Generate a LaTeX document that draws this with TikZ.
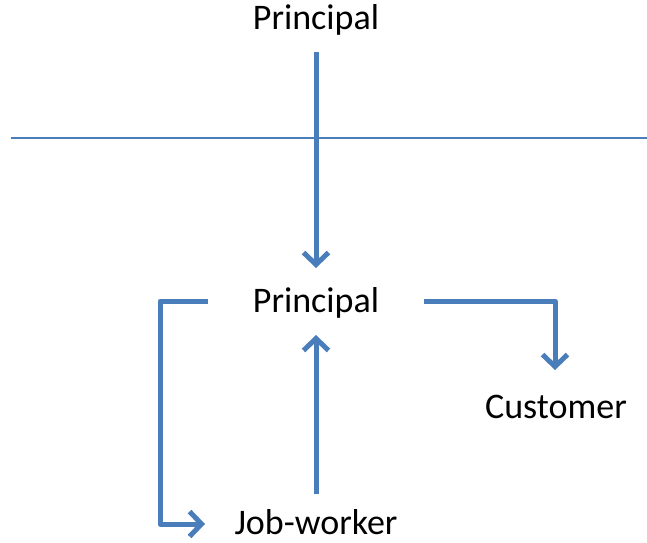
\documentclass[tikz,border=0pt]{standalone}
\usepackage{fontspec}
\setmainfont{Carlito}
\usetikzlibrary{arrows.meta}
\definecolor{flowblue}{HTML}{4A7EBB}
\begin{document}
\begin{tikzpicture}[x=1pt,y=-1pt,
  lbl/.style={font=\fontsize{36}{40}\selectfont, inner sep=0pt},
  flow/.style={draw=flowblue, line width=5pt, line join=round,
    -{Straight Barb[length=12pt,width=25pt,line width=5pt]}}]
\useasboundingbox (0,0) rectangle (647,542);
\node[lbl] (p1) at (316,20) {Principal};
\node[lbl] (p2) at (316,303) {Principal};
\node[lbl] (cu) at (556,407) {Customer};
\node[lbl] (jw) at (316,522) {Job-worker};
\coordinate (bl) at (11,138);
\coordinate (br) at (647,138);
\draw[draw=flowblue, line width=1.6pt] (bl) -- (br);
\coordinate (a1s) at (316,52);
\coordinate (a1e) at (316,268);
\draw[flow] (a1s) -- (a1e);
\coordinate (a2s) at (316,494);
\coordinate (a2e) at (316,335);
\draw[flow] (a2s) -- (a2e);
\coordinate (ls) at (208,301);
\coordinate (le) at (205,524);
\draw[flow] (ls) -- (160,301) -- (160,524) -- (le);
\coordinate (rs) at (424,301);
\coordinate (re) at (555,370);
\draw[flow] (rs) -- (555,301) -- (re);
\end{tikzpicture}
\end{document}
